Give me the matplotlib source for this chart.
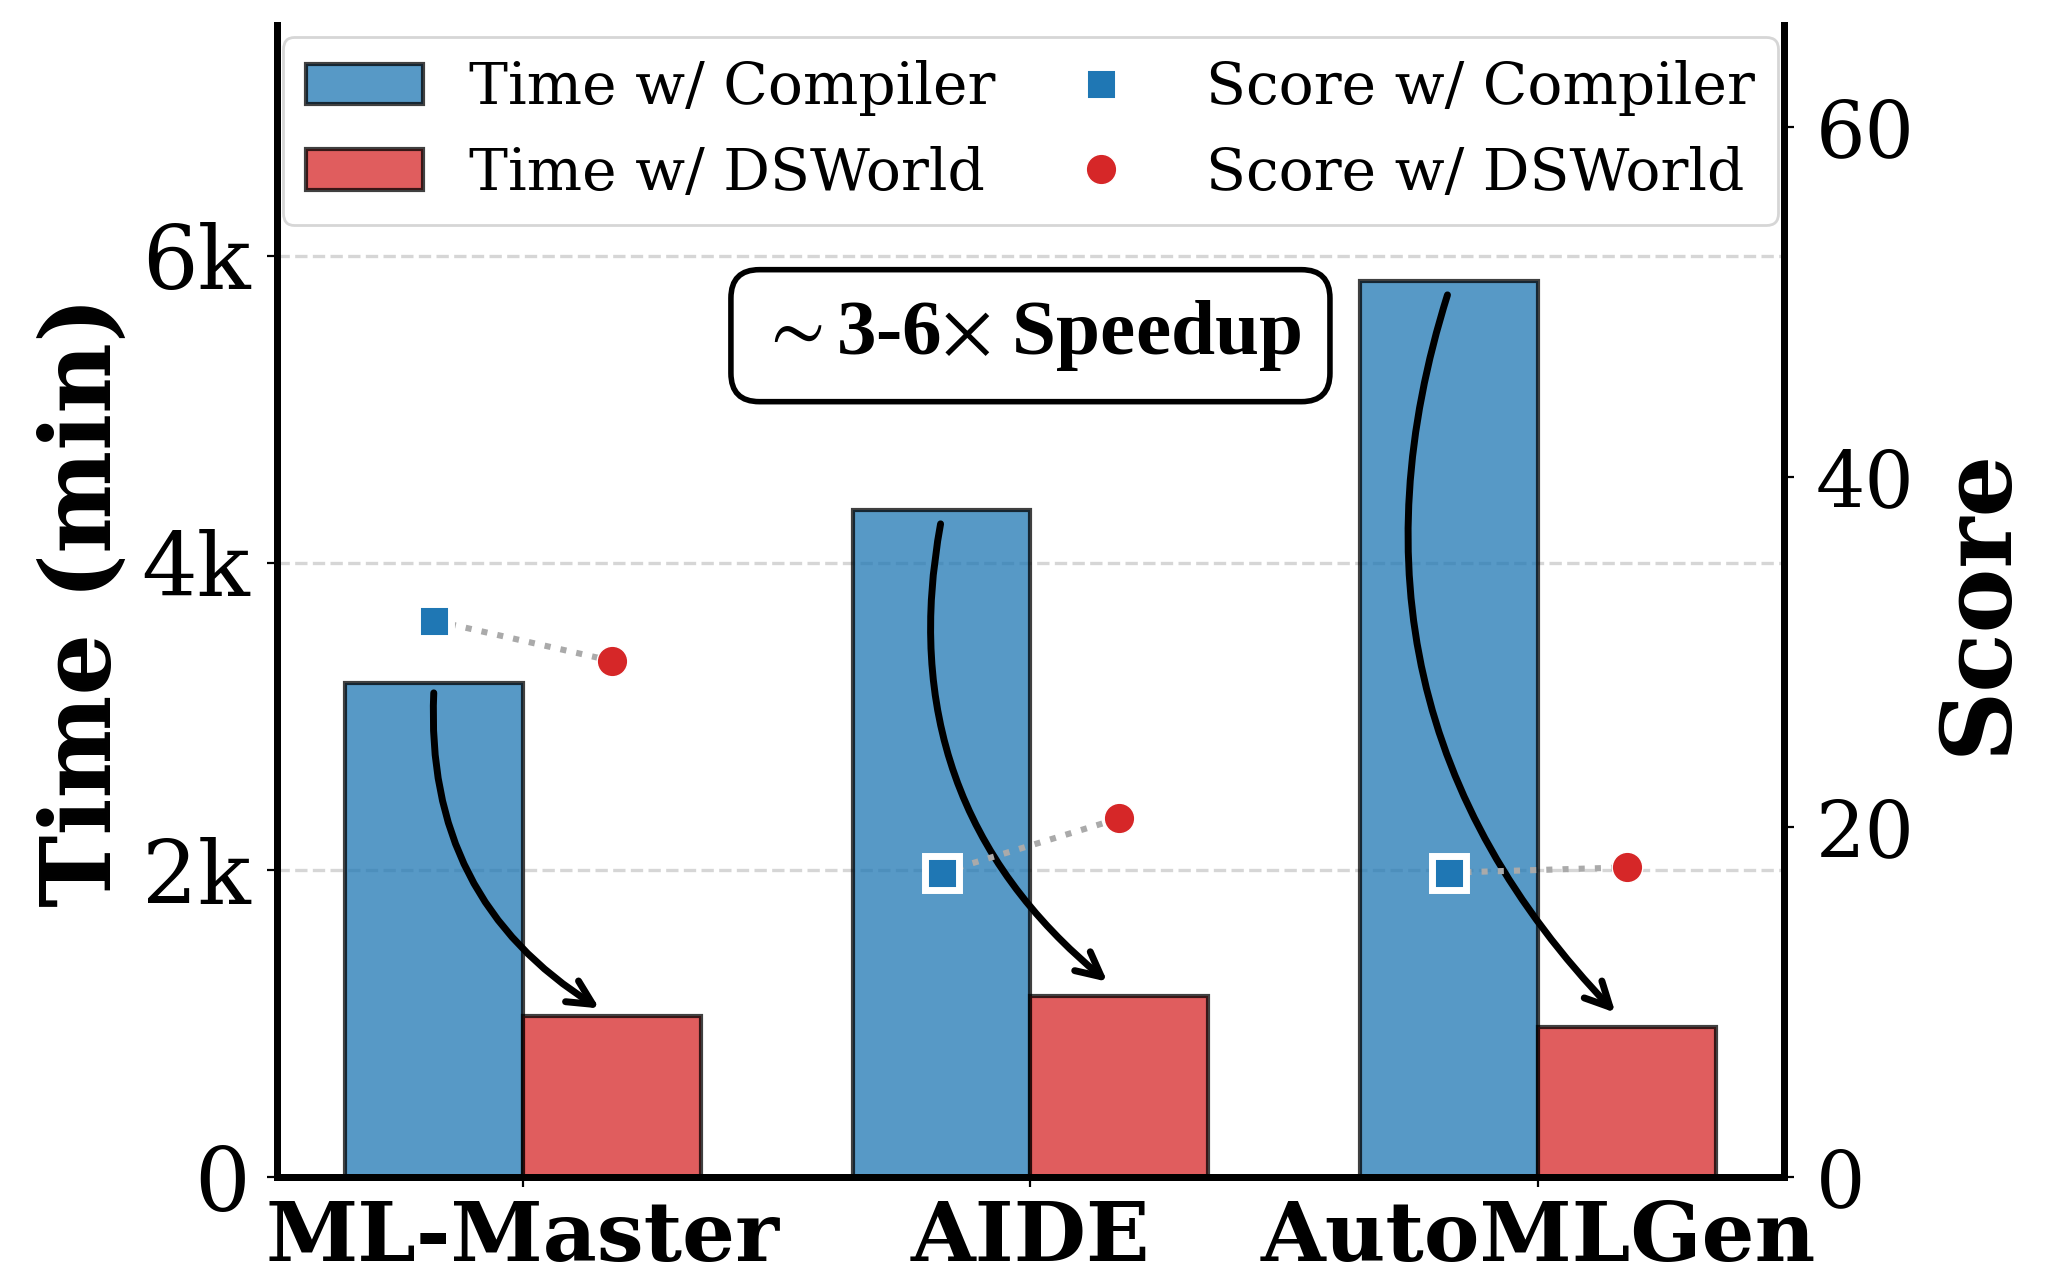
import numpy as np
import matplotlib
matplotlib.use('Agg')
import matplotlib.pyplot as plt
from matplotlib.ticker import FuncFormatter

# data
methods = ['ML-Master', 'AIDE', 'AutoMLGen']
time_compiler = [3220, 4345, 5835]
time_dsworld = [1050, 1180, 975]
score_compiler = [31.8, 17.4, 17.4]
score_dsworld = [29.5, 20.5, 17.7]
arrow_start = [3190, 4290, 5780]
arrow_end = [1080, 1250, 1045]

plt.rcParams['font.family'] = 'DejaVu Serif'
plt.rcParams['mathtext.fontset'] = 'stix'

fig = plt.figure(figsize=(10.325, 6.37), dpi=200)
ax = fig.add_axes([0.134, 0.076, 0.730, 0.904])
ax2 = ax.twinx()

x = np.arange(len(methods))
w = 0.35

ax.bar(x - w/2, time_compiler, w, color='tab:blue', alpha=0.75, edgecolor='black',
       linewidth=1.5, label='Time w/ Compiler', zorder=2)
ax.bar(x + w/2, time_dsworld, w, color='tab:red', alpha=0.75, edgecolor='black',
       linewidth=1.5, label='Time w/ DSWorld', zorder=2)

ax.set_ylim(0, 7500)
ax.set_yticks([0, 2000, 4000, 6000])
ax.yaxis.set_major_formatter(FuncFormatter(lambda v, p: '0' if v == 0 else '%dk' % (v / 1000)))
ax.grid(axis='y', linestyle='--', color='#cccccc', linewidth=1.2, alpha=0.8, zorder=0)
ax.set_axisbelow(True)
ax.set_ylabel('Time (min)', fontsize=35, fontweight='bold')
ax.set_xticks(x)
ax.set_xticklabels(methods, fontsize=30, fontweight='bold')
ax.tick_params(axis='y', labelsize=31.5, pad=6)
ax.tick_params(axis='x', pad=4)

# curved arrows from compiler bar to dsworld bar
for i in range(len(methods)):
    ax.annotate('', xy=(x[i] + 0.16, arrow_end[i]), xytext=(x[i] - 0.175, arrow_start[i]),
                arrowprops=dict(arrowstyle='->', color='black', lw=2.5,
                                connectionstyle='arc3,rad=0.3', mutation_scale=22),
                zorder=5)

ax.text(1.0, 5480, r'$\sim$3-6$\times$ Speedup', fontsize=28.5, fontweight='bold',
        family='Liberation Serif', ha='center', va='center', zorder=6,
        bbox=dict(boxstyle='round,pad=0.36', facecolor='white', edgecolor='black', linewidth=2))

# scores on right axis
for i in range(len(methods)):
    ax2.plot([x[i] - w/2, x[i] + w/2], [score_compiler[i], score_dsworld[i]],
             linestyle=':', color='#aaaaaa', linewidth=2.2, zorder=3)
ax2.plot(x - w/2, score_compiler, 's', color='#1f77b4', markersize=12,
         markeredgecolor='white', markeredgewidth=2.5, linestyle='none',
         label='Score w/ Compiler', zorder=4)
ax2.plot(x + w/2, score_dsworld, 'o', color='#d62728', markersize=11,
         markeredgecolor='white', markeredgewidth=0.5, linestyle='none',
         label='Score w/ DSWorld', zorder=4)
ax2.set_ylim(0, 65.8)
ax2.set_yticks([0, 20, 40, 60])
ax2.tick_params(axis='y', labelsize=28, pad=8)
ax2.set_ylabel('Score', fontsize=35, fontweight='bold', labelpad=6)

for a in (ax, ax2):
    a.spines['top'].set_visible(False)
    for s in ('left', 'right', 'bottom'):
        a.spines[s].set_linewidth(2.5)

h1, l1 = ax.get_legend_handles_labels()
h2, l2 = ax2.get_legend_handles_labels()
leg = ax2.legend(h1 + h2, l1 + l2, ncol=2, loc='upper center', fontsize=21,
                 columnspacing=0.8, markerscale=1.0, borderaxespad=0.2)

fig.savefig('out.png', dpi=200)
